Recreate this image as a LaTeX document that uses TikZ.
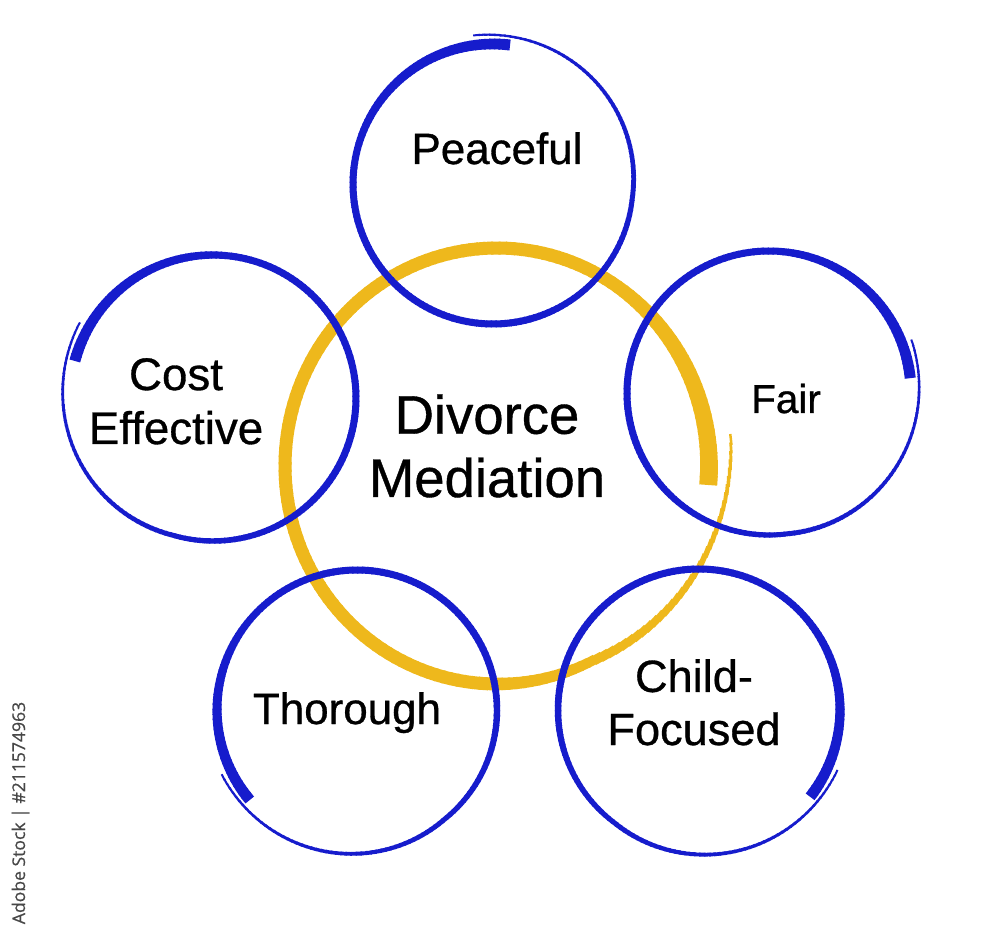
\documentclass[tikz,border=0pt]{standalone}
\usepackage{fontspec}
\setmainfont{Liberation Sans}[FakeBold=0.7]
\newfontfamily\stockfont{Open Sans}[FakeBold=0.5]
\definecolor{ringblue}{RGB}{22,28,204}
\definecolor{ringgold}{RGB}{238,184,28}

\begin{document}
\begin{tikzpicture}[x=0.02cm,y=0.02cm,
  ringtext/.style={align=center,anchor=base,inner sep=0pt,text=black},
  brush/.style={line cap=butt}]
\useasboundingbox (0,0) rectangle (1000,937);

% gold ring, thick at the start, thin tail drifting outwards
\foreach \ph in {0,2,...,370} {
  \pgfmathsetmacro\wid{\ph<60 ? 18-5*\ph/60 : (\ph<270 ? 13 : 13-10.5*(\ph-270)/100)}
  \pgfmathsetmacro\lwd{0.569*\wid}
  \pgfmathsetmacro\grow{\ph<300 ? 1 : 1+0.11*(\ph-300)/70}
  \pgfmathsetmacro\rx{212*\grow}
  \pgfmathsetmacro\ry{218*\grow}
  \pgfmathsetmacro\ang{-5+\ph}
  \draw[brush,ringgold,line width=\lwd pt]
    ([shift={(497,471)}]{\ang}:{\rx} and {\ry}) arc[start angle=\ang,delta angle=2.6,x radius=\rx,y radius=\ry];
}

% blue rings: centre x/centre y/radius/start angle/direction
\foreach \cx/\cy/\rs/\st/\dir in {493/753/140/83/1, 213/539/143/165/-1, 769/544/142/6/1,
                                  357/227/140/220/-1, 699/227/141/-38/1} {
  \foreach \ph in {0,2,...,372} {
    \pgfmathsetmacro\wid{\ph<80 ? 11-4*\ph/80 : (\ph<200 ? 7 : 7-5*(\ph-200)/172)}
    \pgfmathsetmacro\lwd{0.569*\wid}
    \pgfmathsetmacro\rad{\rs*(\ph<270 ? 1 : 1+0.07*(\ph-270)/102)}
    \pgfmathsetmacro\ang{\st+\dir*\ph}
    \pgfmathsetmacro\dang{2.6*\dir}
    \draw[brush,ringblue,line width=\lwd pt]
      ([shift={(\cx,\cy)}]{\ang}:{\rad}) arc[start angle=\ang,delta angle=\dang,radius=\rad];
  }
}

\node[ringtext,font=\fontsize{31}{36}\selectfont] (mediation) at (487,440) {Divorce\\Mediation};
\node[ringtext,font=\fontsize{25}{30}\selectfont] (peaceful) at (497,773) {Peaceful};
\node[ringtext,font=\fontsize{26}{30.7}\selectfont] (cost) at (176,493) {Cost\\Effective};
\node[ringtext,font=\fontsize{23}{28}\selectfont] (fair) at (786,524) {Fair};
\node[ringtext,font=\fontsize{25}{30}\selectfont] (thorough) at (347,213) {Thorough};
\node[ringtext,font=\fontsize{25.7}{30.2}\selectfont] (child) at (694,192) {Child-\\Focused};

\node[rotate=90,anchor=base,inner sep=0pt,text=black!72,font=\stockfont\fontsize{10}{12}\selectfont]
  (stock) at (25,124) {Adobe Stock | \#211574963};
\end{tikzpicture}
\end{document}
